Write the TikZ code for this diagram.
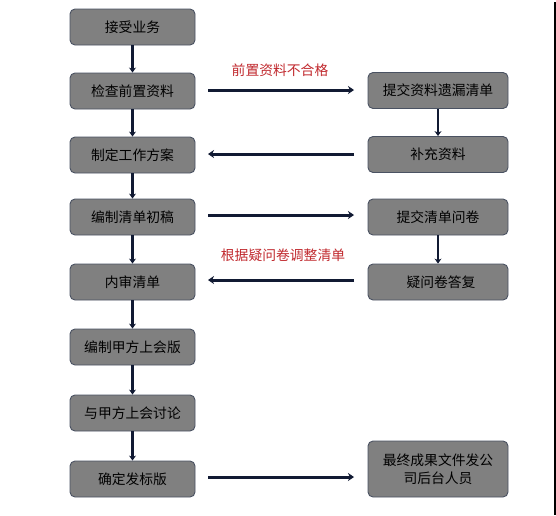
\documentclass[tikz,border=0pt]{standalone}
\usepackage{fontspec}
\setmainfont{Noto Sans CJK SC}
\usetikzlibrary{arrows.meta}
\definecolor{boxfill}{HTML}{808080}
\definecolor{boxline}{HTML}{4A5262}
\definecolor{arrowc}{HTML}{111A33}
\definecolor{redtxt}{HTML}{C0282D}
\begin{document}
\begin{tikzpicture}[x=1pt,y=-1pt,
  proc/.style={draw=boxline, line width=0.9pt, fill=boxfill, rounded corners=5pt,
    minimum width=125pt, minimum height=36pt, inner sep=0pt, font=\fontsize{13.8}{16}\selectfont, text=black},
  rproc/.style={proc, minimum width=140pt},
  harrow/.style={draw=arrowc, line width=3pt, -{Stealth[length=6pt,width=8pt]}},
  varrow/.style={draw=arrowc, line width=2.3pt, -{Stealth[length=5pt,width=7pt]}},
  lbl/.style={text=redtxt, font=\fontsize{13.8}{16}\selectfont, inner sep=0pt}
]
\useasboundingbox (0,0) rectangle (556,515);
\fill[black] (554,2) rectangle (556,515);
% left column
\node[proc] (a1) at (132.5,27) {接受业务};
\node[proc] (a2) at (132.5,91) {检查前置资料};
\node[proc] (a3) at (132.5,155) {制定工作方案};
\node[proc] (a4) at (132.5,217) {编制清单初稿};
\node[proc] (a5) at (132.5,282) {内审清单};
\node[proc] (a6) at (132.5,347) {编制甲方上会版};
\node[proc] (a7) at (132.5,413) {与甲方上会讨论};
\node[proc] (a8) at (132.5,479) {确定发标版};
% right column
\node[rproc] (b1) at (438,90.5) {提交资料遗漏清单};
\node[rproc] (b2) at (438,154.5) {补充资料};
\node[rproc] (b3) at (438,217) {提交清单问卷};
\node[rproc] (b4) at (438,282) {\hspace{6pt}疑问卷答复};
\node[rproc, minimum height=56pt, align=center] (b5) at (438,469) {最终成果文件发公\\[2pt]司后台人员};
% vertical arrows
\foreach \u/\v in {a1/a2,a2/a3,a3/a4,a4/a5,a5/a6,a6/a7,a7/a8,b1/b2,b3/b4}
  \draw[varrow] (\u.south) -- (\v.north);
% horizontal arrows
\coordinate (h2s) at (208,90);  \coordinate (h2e) at (354,90);
\coordinate (h3s) at (208,154); \coordinate (h3e) at (354,154);
\coordinate (h4s) at (208,215); \coordinate (h4e) at (354,215);
\coordinate (h5s) at (208,280); \coordinate (h5e) at (354,280);
\coordinate (h8s) at (208,477); \coordinate (h8e) at (354,477);
\draw[harrow] (h2s) -- (h2e);
\draw[harrow] (h3e) -- (h3s);
\draw[harrow] (h4s) -- (h4e);
\draw[harrow] (h5e) -- (h5s);
\draw[harrow] (h8s) -- (h8e);
% labels
\node[lbl] (l1) at (280,70) {前置资料不合格};
\node[lbl] (l2) at (283,255) {根据疑问卷调整清单};
\end{tikzpicture}
\end{document}
